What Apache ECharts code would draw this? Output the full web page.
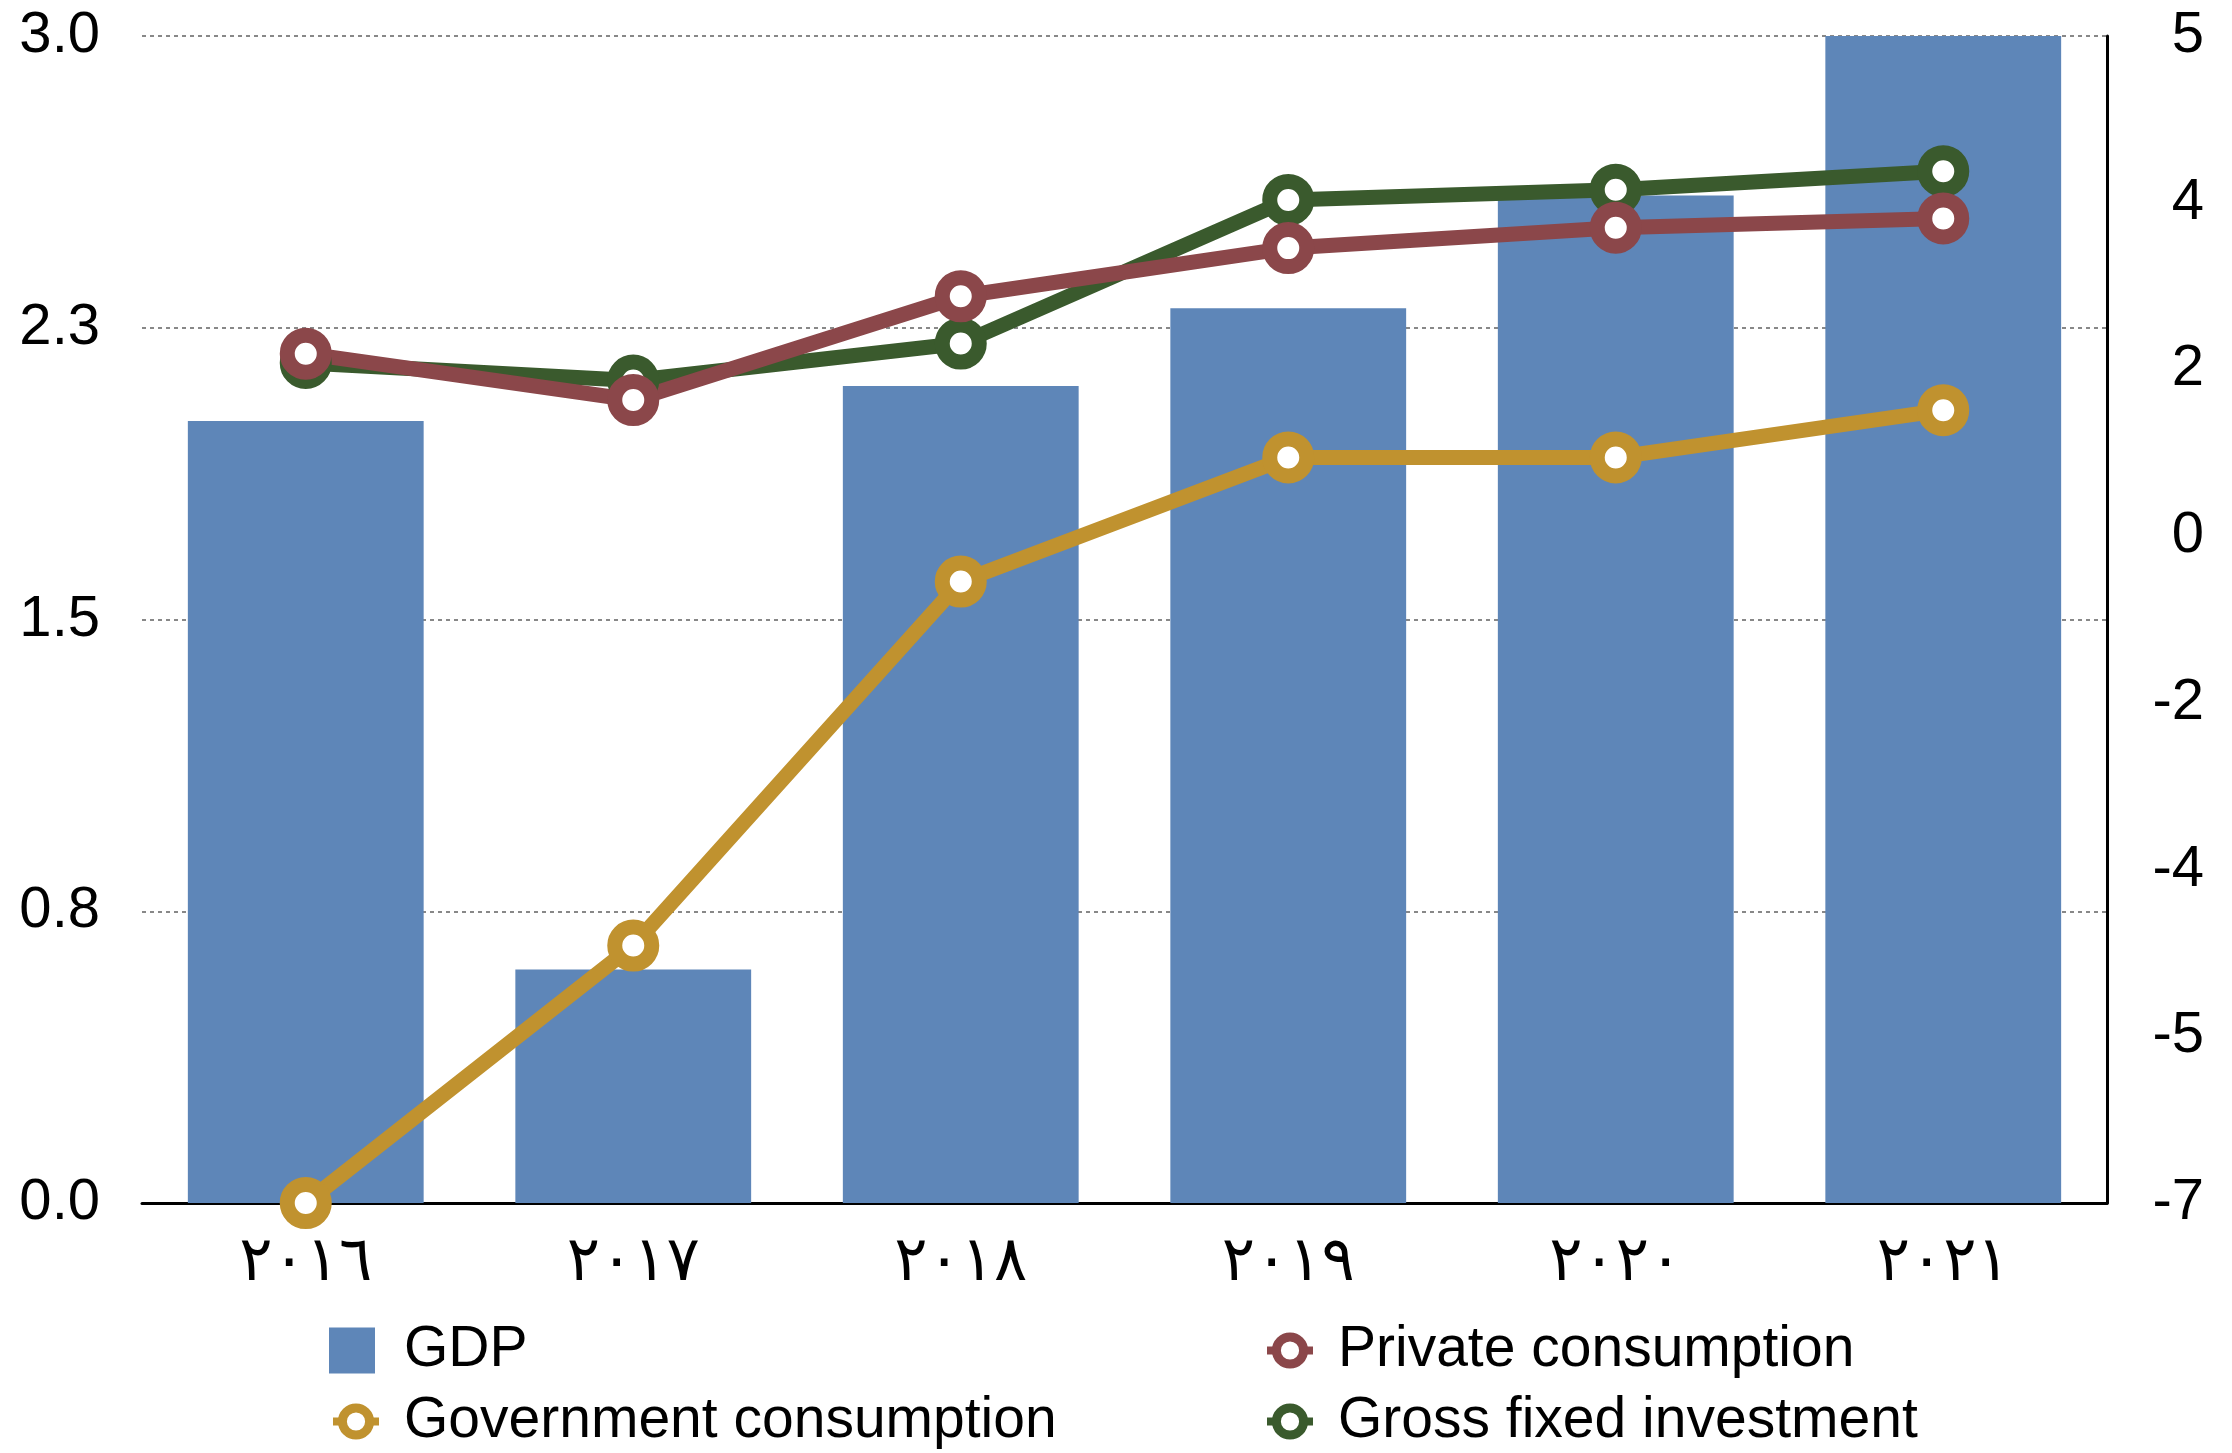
<!DOCTYPE html>
<html>
  <head>
    <meta charset="utf-8" />
    <title>GDP and components</title>
    <script src="https://cdn.jsdelivr.net/npm/echarts@6/dist/echarts.min.js"></script>
    <style>
      html, body { margin: 0; padding: 0; background: #fff; }
      #main { width: 2232px; height: 1453px; }
    </style>
  </head>
  <body>
    <div id="main"></div>
    <script>
      var years = ["٢٠١٦", "٢٠١٧", "٢٠١٨", "٢٠١٩", "٢٠٢٠", "٢٠٢١"];
      var gdp = [2.01, 0.6, 2.1, 2.3, 2.59, 3.0];
      var govConsumption = [-7.2, -4.42, -0.49, 0.85, 0.85, 1.36];
      var privConsumption = [1.97, 1.47, 2.59, 3.11, 3.33, 3.43];
      var grossInvestment = [1.87, 1.68, 2.08, 3.63, 3.74, 3.94];

      var font = "Liberation Sans";
      var chart = echarts.init(document.getElementById("main"));

      function lineSeries(name, data, color) {
        return {
          name: name,
          type: "line",
          yAxisIndex: 1,
          data: data,
          symbol: "circle",
          symbolSize: 37,
          lineStyle: { color: color, width: 15 },
          itemStyle: { color: "#fff", borderColor: color, borderWidth: 15 },
          emphasis: { disabled: true },
        };
      }

      // one legend per entry so each can sit in its own row / column
      function legendItem(name, left, top, isLine) {
        var lg = {
          data: [name],
          left: left,
          top: top,
          itemWidth: 46,
          itemHeight: isLine ? 34 : 46,
          textStyle: {
            fontFamily: font,
            fontSize: 57,
            lineHeight: 46,
            color: "#000",
            padding: [0, 0, 0, isLine ? 20 : 24],
          },
        };
        if (isLine) {
          lg.itemStyle = { borderWidth: 9 };
          lg.lineStyle = { width: 8 };
        } else {
          lg.icon = "rect";
        }
        return lg;
      }

      var option = {
        animation: false,
        grid: { left: 142, right: 125, top: 36, bottom: 250 },
        legend: [
          legendItem("GDP", 324, 1317, false),
          legendItem("Government consumption", 324, 1388, true),
          legendItem("Private consumption", 1258, 1317, true),
          legendItem("Gross fixed investment", 1258, 1388, true),
        ],
        xAxis: {
          type: "category",
          data: years,
          axisTick: { show: false },
          axisLine: { lineStyle: { color: "#000", width: 3 } },
          axisLabel: {
            fontFamily: "DejaVu Sans",
            fontSize: 62,
            color: "#000",
            margin: 30,
          },
        },
        yAxis: [
          {
            type: "value",
            min: 0,
            max: 3,
            interval: 0.75,
            axisLine: { show: false },
            axisTick: { show: false },
            axisLabel: {
              fontFamily: font,
              fontSize: 58,
              color: "#000",
              margin: 42,
              formatter: function (v) { return v.toFixed(1); },
            },
            splitLine: {
              lineStyle: { color: "#888", width: 2, type: [4, 4] },
            },
          },
          {
            type: "value",
            position: "right",
            min: -7.2,
            max: 5.4,
            interval: 1.8,
            axisLine: { show: true, lineStyle: { color: "#000", width: 3 } },
            axisTick: { show: false },
            splitLine: { show: false },
            axisLabel: {
              fontFamily: font,
              fontSize: 58,
              color: "#000",
              align: "right",
              margin: 97,
              formatter: function (v) { return String(Math.round(v) || 0); },
            },
          },
        ],
        series: [
          {
            name: "GDP",
            type: "bar",
            data: gdp,
            barWidth: "72%",
            itemStyle: { color: "#5E86B8" },
            emphasis: { disabled: true },
          },
          lineSeries("Government consumption", govConsumption, "#C0922F"),
          lineSeries("Gross fixed investment", grossInvestment, "#3A5A2D"),
          lineSeries("Private consumption", privConsumption, "#8B474A"),
        ],
      };

      chart.setOption(option);
    </script>
  </body>
</html>
